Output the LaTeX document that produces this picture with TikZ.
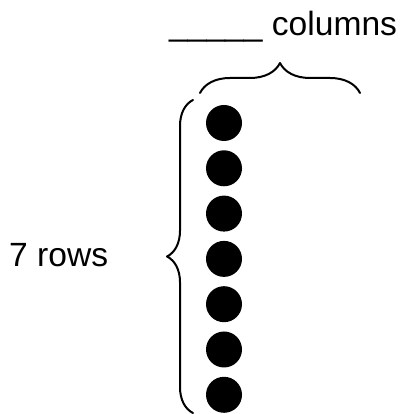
\documentclass[tikz,border=0pt]{standalone}
\usepackage{fontspec}
\setmainfont{Liberation Sans}
\usepackage{tikz}
\usetikzlibrary{decorations.pathreplacing}
\tikzset{
  every picture/.style={line cap=round,line join=round},
  dotmark/.style={circle, fill=black, inner sep=0pt, minimum size=36pt},
  bracemark/.style={decorate, decoration={brace, amplitude=#1}, line width=2pt},
  labeltext/.style={inner sep=0pt, font=\fontsize{33.6}{40}\selectfont},
}

\begin{document}
\begin{tikzpicture}[x=1pt, y=1pt]
    \useasboundingbox (0,0) rectangle (405,414);
    % 点の列
    \foreach \i in {1,...,7}{%
      \pgfmathsetmacro{\ypos}{291 - 45.3*(\i-1)}
      \node[dotmark] (dot\i) at (224,\ypos) {};
    }
    % 括弧
    \coordinate (colL) at (200,321);
    \coordinate (colR) at (360,321);
    \coordinate (rowB) at (193,1);
    \coordinate (rowT) at (193,314);
    \draw[bracemark=30pt] (colL) -- (colR);
    \draw[bracemark=26pt] (rowB) -- (rowT);
    % ラベル
    \node[labeltext, anchor=base west] (collabel) at (169,378) {\_\_\_\_\_ columns};
    \node[labeltext, anchor=base west] (rowlabel) at (9,147) {7 rows};
  \end{tikzpicture}
\end{document}
